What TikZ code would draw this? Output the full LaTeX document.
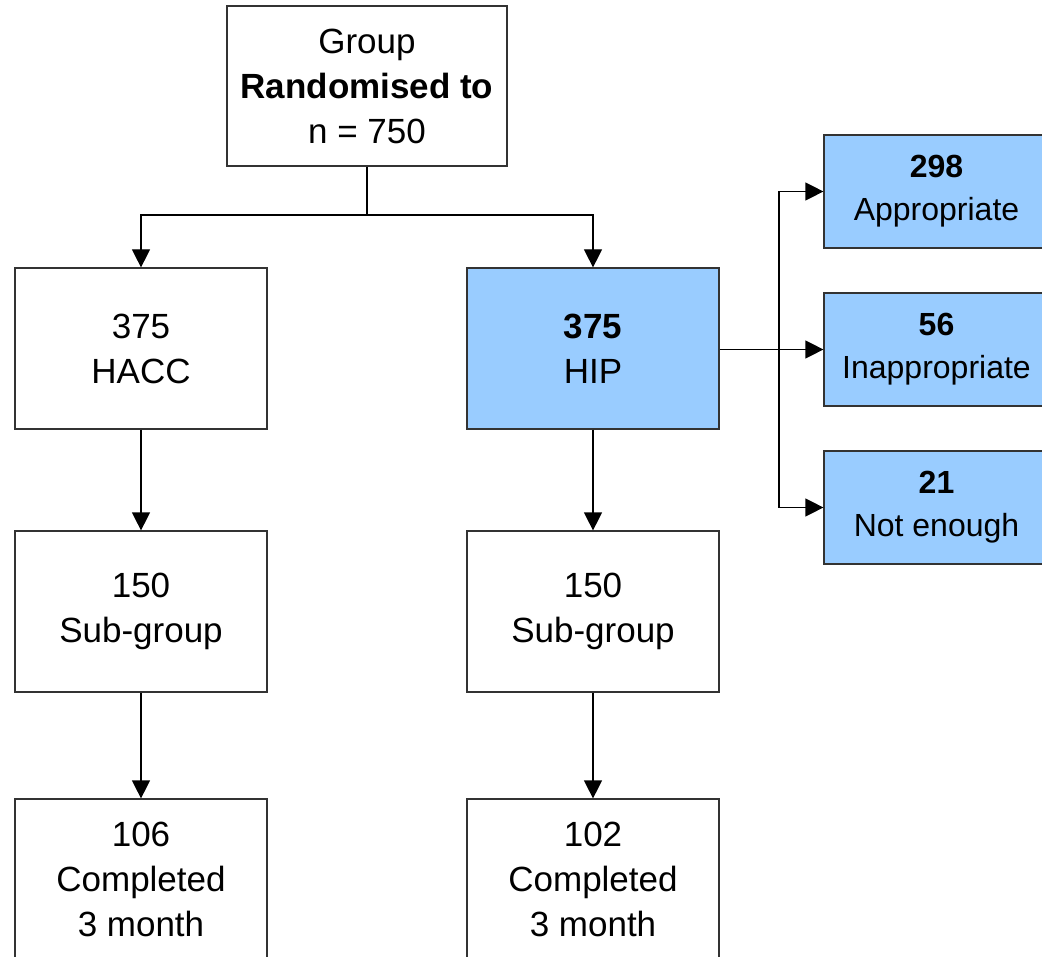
\documentclass[tikz,border=0pt]{standalone}
\usepackage{fontspec}
\setmainfont{Liberation Sans}
\usetikzlibrary{arrows.meta}
\definecolor{boxblue}{HTML}{99CCFF}
\definecolor{edge}{HTML}{333333}
\tikzset{
  box/.style={draw=edge, line width=1.2pt, fill=white, inner sep=0pt, align=center,
    minimum width=252pt, minimum height=161pt, font=\fontsize{35}{45}\selectfont},
  hip/.style={box, fill=boxblue},
  side/.style={draw=edge, line width=1.2pt, fill=boxblue, inner sep=0pt, align=center,
    minimum width=225pt, minimum height=113pt, font=\fontsize{32}{43}\selectfont},
  conn/.style={draw=black, line width=1.2pt},
  arr/.style={conn, -{Triangle[length=18pt, width=18pt]}}
}
\begin{document}
\begin{tikzpicture}[x=1pt, y=-1pt]
\useasboundingbox (0,0) rectangle (1042,957);
\clip (0,0) rectangle (1042,957);
\fill[white] (0,0) rectangle (1042,957);
\node[box, minimum width=280pt, minimum height=160pt] (top) at (367,86) {Group\\\textbf{Randomised to}\\n = 750};
\node[box] (hacc) at (141,348.5) {375\\HACC};
\node[hip] (hipn) at (593,348.5) {\textbf{375}\\HIP};
\node[box] (subl) at (141,611.5) {150\\Sub-group};
\node[box] (subr) at (593,611.5) {150\\Sub-group};
\node[box] (compl) at (141,879.5) {106\\Completed\\3 month};
\node[box] (compr) at (593,879.5) {102\\Completed\\3 month};
\node[side] (app) at (936.5,191.5) {\textbf{298}\\Appropriate};
\node[side] (inapp) at (936.5,349.5) {\textbf{56}\\Inappropriate};
\node[side] (ne) at (936.5,507.5) {\textbf{21}\\Not enough};
\coordinate (split) at (367,215);
\coordinate (fork) at (779,349.5);
\draw[conn] (top.south) -- (split);
\draw[arr] (split) -| (hacc.north);
\draw[arr] (split) -| (hipn.north);
\draw[arr] (hacc) -- (subl);
\draw[arr] (hipn) -- (subr);
\draw[arr] (subl) -- (compl);
\draw[arr] (subr) -- (compr);
\draw[arr] (hipn.east |- fork) -- (inapp.west);
\draw[arr] (fork) |- (app.west);
\draw[arr] (fork) |- (ne.west);
\end{tikzpicture}
\end{document}
